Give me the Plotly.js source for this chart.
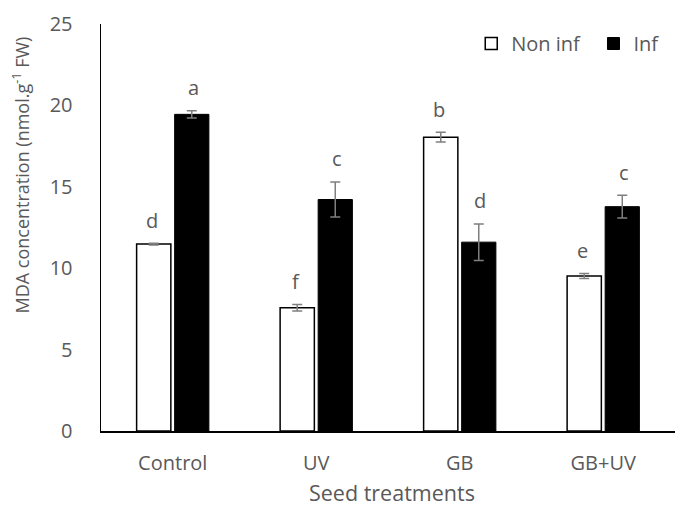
<!DOCTYPE html>
<html><head><meta charset="utf-8">
<script src="https://cdn.plot.ly/plotly-3.0.1.min.js"></script>
<style>body{margin:0;background:#fff}#c{width:681px;height:507px}</style>
</head><body><div id="c"></div>
<script>
const categories = ["Control", "UV", "GB", "GB+UV"];
const nonInf = [11.48, 7.57, 18.05, 9.52];
const nonInfErr = [0.05, 0.2, 0.3, 0.15];
const inf = [19.45, 14.22, 11.6, 13.78];
const infErr = [0.22, 1.08, 1.12, 0.7];
const nonInfLetters = ["d", "f", "b", "e"];
const infLetters = ["a", "c", "d", "c"];
const yTitle = "MDA concentration (nmol.g<sup>-1</sup> FW)";
const xTitle = "Seed treatments";

const errStyle = {type: "data", visible: true, color: "#7f7f7f", thickness: 1.5, width: 5};
const traces = [
  {type: "bar", name: "Non inf", x: categories, y: nonInf, legend: "legend",
   error_y: Object.assign({array: nonInfErr}, errStyle),
   marker: {color: "#ffffff", line: {color: "#000000", width: 1.5}}},
  {type: "bar", name: "Inf", x: categories, y: inf, legend: "legend2",
   error_y: Object.assign({array: infErr}, errStyle),
   marker: {color: "#000000", line: {color: "#000000", width: 1}}}
];

const annotations = [];
categories.forEach((c, i) => {
  annotations.push({x: c, y: nonInf[i] + nonInfErr[i], text: nonInfLetters[i], xshift: -20.5,
    yanchor: "middle", yshift: 23, showarrow: false, font: {size: 20, color: "#595959"}});
  annotations.push({x: c, y: inf[i] + infErr[i], text: infLetters[i], xshift: 20.5,
    yanchor: "middle", yshift: 23, showarrow: false, font: {size: 20, color: "#595959"}});
});
annotations.push({xref: "paper", yref: "paper", x: -0.1385, y: 0.629, text: yTitle,
  textangle: -90, showarrow: false, xanchor: "center", yanchor: "middle",
  font: {size: 18, color: "#595959"}});
annotations.push({xref: "paper", yref: "paper", x: 0.507, y: -0.150, text: xTitle,
  showarrow: false, xanchor: "center", yanchor: "middle", borderpad: 0,
  font: {size: 21.5, color: "#595959"}});

const legendBase = {orientation: "h", xanchor: "left", y: 1.0, yanchor: "top",
  font: {size: 20, color: "#595959"}};
const layout = {
  width: 681, height: 507,
  margin: {l: 101, r: 6, t: 24, b: 76},
  paper_bgcolor: "#fff", plot_bgcolor: "#fff",
  font: {family: "Open Sans, Liberation Sans, sans-serif", color: "#595959"},
  barmode: "group", bargap: 0.47, bargroupgap: 0.1,
  showlegend: true,
  legend: Object.assign({x: 0.645}, legendBase),
  legend2: Object.assign({x: 0.858}, legendBase),
  xaxis: {showline: true, linecolor: "#000", linewidth: 1.5, ticks: "",
    tickfont: {size: 20, color: "#595959"}, ticklabelstandoff: 13},
  yaxis: {range: [0, 25], dtick: 5, showline: true, linecolor: "#000", linewidth: 1.5,
    showgrid: false, zeroline: false, ticks: "", ticklen: 0, ticklabelstandoff: 23,
    tickfont: {size: 20, color: "#595959"}},
  annotations: annotations
};
Plotly.newPlot("c", traces, layout, {displayModeBar: false, staticPlot: true});
</script></body></html>
